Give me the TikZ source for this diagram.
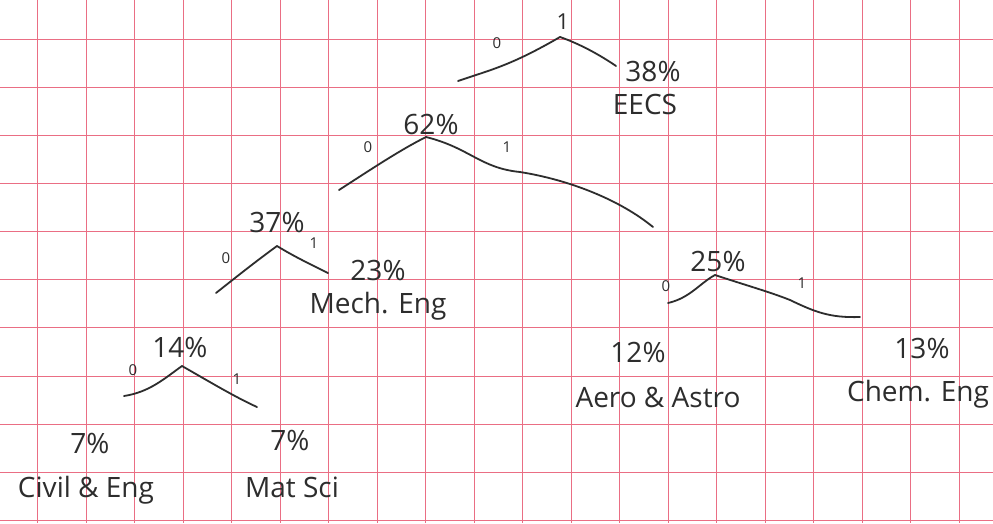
\documentclass[tikz,border=0pt]{standalone}
\usepackage{fontspec}
\newfontfamily\hand{Open Sans}
\definecolor{gridred}{RGB}{234,110,132}
\definecolor{ink}{RGB}{45,45,45}
\begin{document}
\begin{tikzpicture}[x=1pt,y=-1pt,
  gridline/.style={draw=gridred,line width=0.9pt},
  branch/.style={draw=ink,line width=1.8pt,line cap=round,line join=round},
  pct/.style={font=\hand\fontsize{28}{30}\selectfont,text=ink,inner sep=0pt},
  leaf/.style={font=\hand\fontsize{28}{30}\selectfont,text=ink,inner sep=0pt},
  bit/.style={font=\hand\fontsize{15}{16}\selectfont,text=ink,inner sep=0pt}]
\useasboundingbox (0,0) rectangle (993,523);
\fill[white] (0,0) rectangle (993,523);
\begin{scope}
\clip (0,0) rectangle (993,523);
\foreach \k in {0,...,19} {\draw[gridline] ({37.7+48.5*\k},0) -- ({37.7+48.5*\k},523);}
\foreach \k in {0,...,10} {\draw[gridline] (0,{39.3+48.1*\k}) -- (993,{39.3+48.1*\k});}
\end{scope}

% apexes and branch ends
\coordinate (r) at (560,37);
\coordinate (rl) at (458,81);
\coordinate (rr) at (616,66);
\coordinate (n62) at (426,137);
\coordinate (n62l) at (339,190);
\coordinate (n62r) at (653,227);
\coordinate (n37) at (277,246);
\coordinate (n37l) at (216,293);
\coordinate (n37r) at (328,273);
\coordinate (n14) at (182,366);
\coordinate (n14l) at (124,396);
\coordinate (n14r) at (257,407);
\coordinate (n25) at (715,275);
\coordinate (n25l) at (668,303);
\coordinate (n25r) at (860,317);

% branches
\draw[branch] (rl) .. controls (490,70) and (510,66) .. (r);
\draw[branch] (r) .. controls (580,44) and (600,55) .. (rr);
\draw[branch] (n62l) .. controls (370,170) and (400,150) .. (n62);
\draw[branch] (n62) .. controls (470,148) and (480,168) .. (520,172) .. controls (570,180) and (620,200) .. (n62r);
\draw[branch] (n37l) .. controls (235,278) and (255,262) .. (n37);
\draw[branch] (n37) .. controls (295,257) and (310,264) .. (n37r);
\draw[branch] (n14l) .. controls (150,392) and (165,378) .. (n14);
\draw[branch] (n14) .. controls (210,382) and (235,397) .. (n14r);
\draw[branch] (n25l) .. controls (690,298) and (700,283) .. (n25);
\draw[branch] (n25) .. controls (745,285) and (770,292) .. (790,300) .. controls (815,312) and (830,318) .. (n25r);

% labels
\node[bit] (r0) at (497,43) {0};
\node[pct,font=\hand\fontsize{22}{24}\selectfont] (r1) at (563,22) {1};
\node[pct] (p38) at (653,71) {38\%};
\node[leaf] (eecs) at (645,104) {EECS};

\node[pct] (p62) at (431,124) {62\%};
\node[bit] (b620) at (368,147) {0};
\node[bit] (b621) at (507,147) {1};

\node[pct] (p37) at (277,222) {37\%};
\node[bit] (b370) at (226,258) {0};
\node[bit] (b371) at (314,243) {1};
\node[pct] (p23) at (378,270) {23\%};
\node[leaf] (mech) at (378,306) {Mech. Eng};

\node[pct] (p14) at (180,347) {14\%};
\node[bit] (b140) at (133,370) {0};
\node[bit] (b141) at (237,379) {1};
\node[pct] (p7a) at (90,443) {7\%};
\node[leaf] (civil) at (86,490) {Civil \& Eng};
\node[pct] (p7b) at (290,440) {7\%};
\node[leaf] (mat) at (292,487) {Mat Sci};

\node[pct] (p25) at (718,261) {25\%};
\node[bit] (b250) at (666,286) {0};
\node[bit] (b251) at (802,283) {1};
\node[pct] (p12) at (638,352) {12\%};
\node[leaf] (aero) at (658,397) {Aero \& Astro};
\node[pct] (p13) at (922,348) {13\%};
\node[leaf] (chem) at (918,394) {Chem. Eng};
\end{tikzpicture}
\end{document}
